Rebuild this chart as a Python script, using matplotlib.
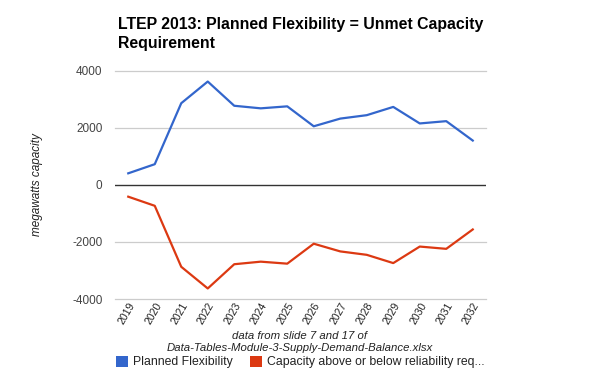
import matplotlib
matplotlib.use("Agg")
import matplotlib.pyplot as plt
from matplotlib.patches import Patch

years = ["2019", "2020", "2021", "2022", "2023", "2024", "2025",
         "2026", "2027", "2028", "2029", "2030", "2031", "2032"]
planned_flexibility = [410, 730, 2870, 3630, 2780, 2690, 2760,
                       2060, 2330, 2450, 2740, 2160, 2240, 1560]
capacity_balance = [-410, -730, -2870, -3630, -2780, -2690, -2760,
                    -2060, -2330, -2450, -2740, -2160, -2240, -1560]
y_ticks = [-4000, -2000, 0, 2000, 4000]

plt.rcParams['font.family'] = ['Liberation Sans', 'DejaVu Sans']

fig = plt.figure(figsize=(6, 3.71), dpi=100)
ax = fig.add_axes([115/600, 1-299/371, (486-115)/600, (299-71)/371])

x = list(range(len(years)))
ax.plot(x, planned_flexibility, color='#3366CC', lw=1.6, solid_joinstyle='round', zorder=3)
ax.plot(x, capacity_balance, color='#DC3912', lw=1.6, solid_joinstyle='round', zorder=3)

ax.set_xlim(-0.5, len(years) - 0.5)
ax.set_ylim(-4000, 4000)
ax.set_yticks(y_ticks)
ax.set_yticklabels([str(v) for v in y_ticks])
ax.set_xticks(x)
ax.set_xticklabels(years, rotation=60, ha='right', rotation_mode='anchor')
for v in y_ticks:
    if v != 0:
        ax.axhline(v, color='#cccccc', lw=0.9, zorder=1, clip_on=False)
ax.axhline(0, color='#333333', lw=1.0, zorder=2)
for s in ax.spines.values():
    s.set_visible(False)
ax.tick_params(axis='both', length=0, labelsize=8.5, labelcolor='#444444')
ax.tick_params(axis='y', pad=9)
ax.tick_params(axis='x', pad=1, labelsize=7.6, labelcolor='#222222')

fig.text(118/600, 1-17/371, "LTEP 2013: Planned Flexibility = Unmet Capacity\nRequirement",
         ha='left', va='top', fontsize=11.4, fontweight='bold', color='black', linespacing=1.3)
fig.text(37/600, 1-185/371, "megawatts capacity", rotation=90, ha='center', va='center',
         fontsize=8.5, style='italic', color='#222222')
fig.text(0.5, 1-342/371, "data from slide 7 and 17 of\nData-Tables-Module-3-Supply-Demand-Balance.xlsx",
         ha='center', va='center', fontsize=8.2, style='italic', color='#222222', linespacing=1.3)

handles = [Patch(facecolor='#3366CC', edgecolor='none'), Patch(facecolor='#DC3912', edgecolor='none')]
fig.legend(handles, ["Planned Flexibility", "Capacity above or below reliability req..."],
           loc='center', bbox_to_anchor=(300/600, 1-362/371), ncol=2, frameon=False,
           fontsize=8.8, handlelength=1.0, handleheight=1.0, handletextpad=0.4,
           columnspacing=1.4, borderaxespad=0, borderpad=0, labelcolor='#222222')

fig.savefig("out.png", dpi=100)
